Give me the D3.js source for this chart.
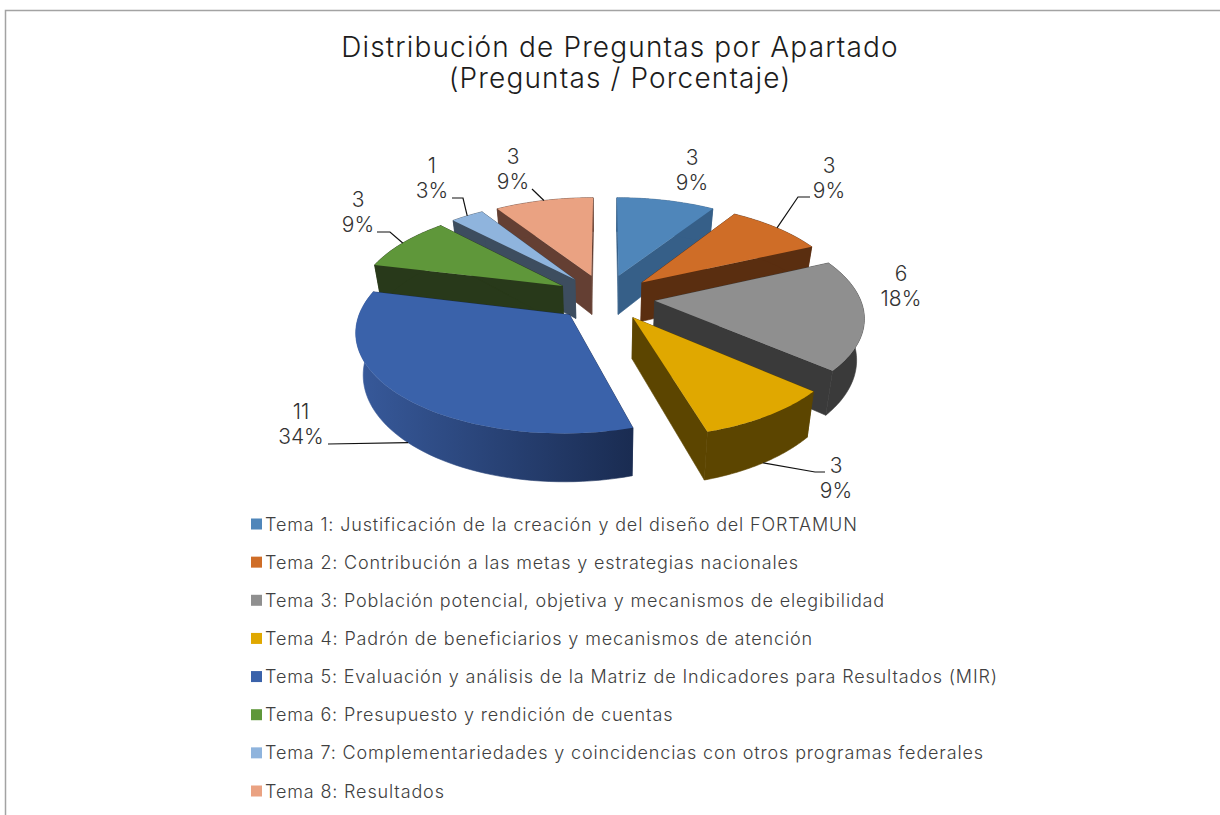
<!DOCTYPE html>
<html>
<head>
<meta charset="utf-8">
<script src="https://cdn.jsdelivr.net/npm/d3@7"></script>
<style>
  body { margin: 0; background: #fff; }
  text { font-family: Inter, "Open Sans", sans-serif; font-weight: 300; }
</style>
</head>
<body>
<div id="chart"></div>
<script>
// Data
const temas = [
    "Tema 1: Justificación de la creación y del diseño del FORTAMUN",
    "Tema 2: Contribución a las metas y estrategias nacionales",
    "Tema 3: Población potencial, objetiva y mecanismos de elegibilidad",
    "Tema 4: Padrón de beneficiarios y mecanismos de atención",
    "Tema 5: Evaluación y análisis de la Matriz de Indicadores para Resultados (MIR)",
    "Tema 6: Presupuesto y rendición de cuentas",
    "Tema 7: Complementariedades y coincidencias con otros programas federales",
    "Tema 8: Resultados"
];
const preguntas = [3, 3, 6, 3, 11, 3, 1, 3];
const porcentajes = [9, 9, 18, 9, 34, 9, 3, 9];
const titulo = ["Distribución de Preguntas por Apartado", "(Preguntas / Porcentaje)"];

// Colours
const topColors = ["#4f86ba", "#cf6d27", "#8f8f8f", "#e0a800", "#3a62aa", "#5f973a", "#8fb4dd", "#eaa282"];
const wallColors = ["#365f88", "#5a2e10", "#3a3a3a", "#5c4500", "url(#wall5)", "#28391a", "#3d4d5f", "#643f33"];

// Label placement, one entry per slice: centre of the label and elbow of its leader
const labelPos = [
    { x: 692, y: 157 },
    { x: 829, y: 165, leader: [[798, 197], [810, 197]] },
    { x: 901, y: 273 },
    { x: 836, y: 465, leader: [[815, 472], [825, 472]] },
    { x: 301, y: 411, leader: [[328, 444]] },
    { x: 358, y: 199, leader: [[390, 232], [377, 232]] },
    { x: 432, y: 165, leader: [[463, 198], [452, 198]] },
    { x: 513, y: 156, leader: [[532, 189]] }
];

const width = 1220;
const height = 815;

const svg = d3.select("#chart")
    .append("svg")
    .attr("width", width)
    .attr("height", height)
    .style("display", "block");

// Frame, open at the right and bottom
svg.append("path")
    .attr("d", `M5.5,${height}V10.5H${width}`)
    .attr("fill", "none")
    .attr("stroke", "#a3a3a3")
    .attr("stroke-width", 1.5);

svg.append("text")
    .attr("text-anchor", "middle")
    .attr("fill", "#1c1c1c")
    .attr("font-size", 28)
    .attr("letter-spacing", 1.15)
    .selectAll("tspan")
    .data(titulo)
    .enter()
    .append("tspan")
    .attr("x", 620)
    .attr("y", (d, i) => 57 + i * 31)
    .text(d => d);

const defs = svg.append("defs");
const grad = defs.append("linearGradient")
    .attr("id", "wall5")
    .attr("gradientUnits", "userSpaceOnUse")
    .attr("x1", 360).attr("x2", 631)
    .attr("y1", 0).attr("y2", 0);
grad.append("stop").attr("offset", 0).attr("stop-color", "#37599a");
grad.append("stop").attr("offset", 1).attr("stop-color", "#1a2c52");

// Perspective projection of the tilted disc (radius 1, height z 0..1)
const view = { cx: 605, cy: 297.4, a: 205, b: 95.5, q: 0.1476, depth: 40, shrink: 0.03 };
const explode = 0.244;

function project(px, py, z) {
    const s = 1 / (1 + view.q * py);
    return [
        view.cx + view.a * px * s * (1 - view.shrink * z),
        view.cy - view.b * py * s + view.depth * z * s
    ];
}

const pie = d3.pie().sort(null).value(d => d);
const slices = pie(preguntas).map((d, i) => {
    const mid = (d.startAngle + d.endAngle) / 2;
    return {
        i: i,
        start: d.startAngle,
        end: d.endAngle,
        mid: mid,
        ox: explode * Math.sin(mid),
        oy: explode * Math.cos(mid)
    };
});

const rimAt = (s, angle, z) => project(s.ox + Math.sin(angle), s.oy + Math.cos(angle), z);
const apexAt = (s, z) => project(s.ox, s.oy, z);
const rimPoints = (s, z) => d3.range(0, 61).map(k => rimAt(s, s.start + (s.end - s.start) * k / 60, z));

const line = d3.line();

// Back slices first so the front ones cover them
const order = slices.slice().sort((p, q) => q.oy - p.oy);

const pieG = svg.append("g");
order.forEach(s => {
    const g = pieG.append("g");
    const wall = wallColors[s.i];
    const top = rimPoints(s, 0);
    const bottom = rimPoints(s, 1);

    [s.start, s.end].forEach(angle => {
        const flat = s.i === 4 ? "#1a2c52" : wall;
        g.append("path")
            .attr("d", line([apexAt(s, 0), rimAt(s, angle, 0), rimAt(s, angle, 1), apexAt(s, 1)]) + "Z")
            .attr("fill", flat)
            .attr("stroke", flat)
            .attr("stroke-width", 0.6);
    });

    // same colour stroke hides the seam between the walls
    g.append("path")
        .attr("d", line(top.concat(bottom.slice().reverse())) + "Z")
        .attr("fill", wall)
        .attr("stroke", wall)
        .attr("stroke-width", 0.6);

    g.append("path")
        .attr("d", line([apexAt(s, 0)].concat(top)) + "Z")
        .attr("fill", topColors[s.i]);
});

// Leader lines start on the rim at the middle of each slice
const frontFacing = s => Math.cos(s.mid) < -0.5;
svg.append("g")
    .selectAll("path")
    .data(slices.filter(s => labelPos[s.i].leader))
    .enter()
    .append("path")
    .attr("d", s => line([rimAt(s, s.mid, frontFacing(s) ? 1 : 0)].concat(labelPos[s.i].leader)))
    .attr("fill", "none")
    .attr("stroke", "#111")
    .attr("stroke-width", 1.2);

const labels = svg.append("g")
    .attr("text-anchor", "middle")
    .attr("fill", "#333")
    .attr("font-size", 21)
    .selectAll("text")
    .data(preguntas)
    .enter()
    .append("text");

labels.append("tspan")
    .attr("x", (d, i) => labelPos[i].x)
    .attr("y", (d, i) => labelPos[i].y + 8)
    .text(d => d);

labels.append("tspan")
    .attr("x", (d, i) => labelPos[i].x)
    .attr("y", (d, i) => labelPos[i].y + 33)
    .text((d, i) => porcentajes[i] + "%");

// Legend
const legendY = d3.scalePoint().domain(d3.range(temas.length)).range([524, 791]);

const legend = svg.append("g")
    .selectAll("g")
    .data(temas)
    .enter()
    .append("g")
    .attr("transform", (d, i) => `translate(251, ${legendY(i)})`);

legend.append("rect")
    .attr("y", -5.5)
    .attr("width", 11)
    .attr("height", 11)
    .attr("fill", (d, i) => topColors[i]);

legend.append("text")
    .attr("x", 14)
    .attr("y", 6.5)
    .attr("fill", "#404040")
    .attr("font-size", 18)
    .attr("letter-spacing", 0.85)
    .text(d => d);
</script>
</body>
</html>
